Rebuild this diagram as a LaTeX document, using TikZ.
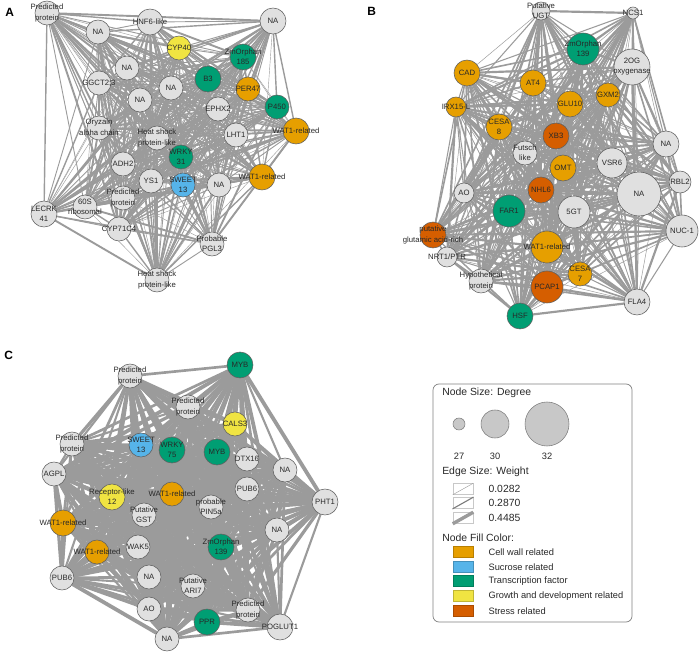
\documentclass[tikz,border=0pt]{standalone}
\usepackage{fontspec}
\setmainfont{Liberation Sans}
\usetikzlibrary{positioning,backgrounds}
\definecolor{netcellwall}{RGB}{230,159,0}
\definecolor{netsucrose}{RGB}{86,180,233}
\definecolor{nettf}{RGB}{0,158,115}
\definecolor{netgrowth}{RGB}{240,228,66}
\definecolor{netstress}{RGB}{213,94,0}
\definecolor{netnode}{RGB}{224,224,224}
\definecolor{netrim}{RGB}{95,95,95}
\definecolor{netedge}{RGB}{155,155,155}
\definecolor{netink}{RGB}{40,40,40}
\definecolor{netlegend}{RGB}{200,200,200}

\def\genesA{aPred1,aNA1,aHNF,aNA2,aCYP,aZmO,aNA3,aB3,aGGCT,aNA4,aPER,aNA5,aEPHX,aP450,aOryz,aHsp1,aLHT,aWAT1,aWRKY,aADH,aYS,aSWEET,aNA6,aWAT2,aPred2,a60S,aLECRK,aCYP71,aPGL,aHsp2}
\def\genesB{bUGT,bNCS,bZmO,b2OG,bCAD,bAT4,bGXM,bIRX,bGLU,bCESA8,bXB3,bFutsch,bNA1,bVSR,bOMT,bRBL,bNHL,bNA2,bAO,bFAR,b5GT,bNUC,bGlu,bWAT,bNRT,bCESA7,bHyp,bPCAP,bFLA,bHSF}
\def\genesC{cPred1,cMYB1,cPred2,cCALS,cPred3,cSWEET,cWRKY,cMYB2,cDTX,cNA1,cAGPL,cPUB1,cRec,cWAT1,cPHT,cPIN,cGST,cWAT2,cNA2,cWAK,cWAT3,cZmO,cPUB2,cNA3,cARI,cAO,cPred4,cPPR,cPOG,cNA4}

\begin{document}
\begin{tikzpicture}[x=0.25mm, y=-0.25mm,
    gene/.style={circle, draw=netrim, line width=0.4pt, fill=netnode, inner sep=0pt, minimum size=#1*0.5mm},
    gene/.default=12,
    lbl/.style={font=\fontsize{5.5}{7.2}\selectfont, text=netink, align=center, inner sep=0pt},
    lab/.style={label={[lbl]center:{#1}}},
    cw/.style={fill=netcellwall},
    su/.style={fill=netsucrose},
    tf/.style={fill=nettf},
    gr/.style={fill=netgrowth},
    st/.style={fill=netstress},
    link/.style={draw=netedge, line cap=round},
    panel/.style={font=\fontsize{8.5}{9}\selectfont\bfseries, anchor=west, inner sep=0pt},
    leghead/.style={font=\fontsize{7.4}{8}\selectfont, text=netink, anchor=west, inner sep=0pt},
    legtext/.style={font=\fontsize{6.6}{7}\selectfont, text=netink, anchor=west, inner sep=0pt},
    legval/.style={font=\fontsize{7.4}{8}\selectfont, text=netink, anchor=west, inner sep=0pt},
    legdot/.style={gene=#1, fill=netlegend, draw=netrim!80},
    swatch/.style={rectangle, minimum width=5mm, minimum height=2.75mm, inner sep=0pt, line width=0.4pt}
  ]
  \useasboundingbox (0,0) rectangle (700,654);

  % panel A
  \node[panel] (labA) at (5,12) {A};
  \node[gene=12, lab={Predicted\\protein}] (aPred1) at (47,13) {};
  \node[gene=12, lab=NA] (aNA1) at (98,32) {};
  \node[gene=13, lab=HNF6-like] (aHNF) at (150,22) {};
  \node[gene=13, lab=NA] (aNA2) at (273,21) {};
  \node[gene=12, gr, lab=CYP40] (aCYP) at (179,48) {};
  \node[gene=13, tf, lab={ZmOrphan\\185}] (aZmO) at (243,57) {};
  \node[gene=12, lab=NA] (aNA3) at (127,68) {};
  \node[gene=13, tf, lab=B3] (aB3) at (208,79) {};
  \node[gene=12, lab={GGCT2;3}] (aGGCT) at (99,83) {};
  \node[gene=12, lab=NA] (aNA4) at (171,88) {};
  \node[gene=12, cw, lab=PER47] (aPER) at (248,89) {};
  \node[gene=12, lab=NA] (aNA5) at (140,100) {};
  \node[gene=12, lab=EPHX2] (aEPHX) at (218,109) {};
  \node[gene=12, tf, lab=P450] (aP450) at (277,107) {};
  \node[gene=12, lab={Oryzain\\alpha chain}] (aOryz) at (99,128) {};
  \node[gene=12, lab={Heat shock\\protein-like}] (aHsp1) at (157,138) {};
  \node[gene=12, lab=LHT1] (aLHT) at (236,135) {};
  \node[gene=13, cw, lab=WAT1-related] (aWAT1) at (296,131) {};
  \node[gene=12, tf, lab={WRKY\\31}] (aWRKY) at (181,157) {};
  \node[gene=12, lab=ADH2] (aADH) at (123,164) {};
  \node[gene=12, lab=YS1] (aYS) at (151,181) {};
  \node[gene=12, su, lab={SWEET\\13}] (aSWEET) at (183,185) {};
  \node[gene=12, lab=NA] (aNA6) at (219,185) {};
  \node[gene=13, cw, lab=WAT1-related] (aWAT2) at (262,177) {};
  \node[gene=12, lab={Predicted\\protein}] (aPred2) at (123,198) {};
  \node[gene=12, lab={60S\\ribosomal}] (a60S) at (85,207) {};
  \node[gene=13, lab={LECRK\\41}] (aLECRK) at (44,214) {};
  \node[gene=12, lab=CYP71C4] (aCYP71) at (119,229) {};
  \node[gene=12, lab={Probable\\PGL3}] (aPGL) at (212,244) {};
  \node[gene=12, lab={Heat shock\\protein-like}] (aHsp2) at (157,280) {};

  % panel B
  \node[panel] (labB) at (367,11) {B};
  \node[gene=9, lab={Putative\\UGT}] (bUGT) at (541,11) {};
  \node[gene=6, lab=NCS1] (bNCS) at (633,13) {};
  \node[gene=16, tf, lab={ZmOrphan\\139}] (bZmO) at (583,49) {};
  \node[gene=18, lab={2OG\\oxygenase}] (b2OG) at (632,67) {};
  \node[gene=13, cw, lab=CAD] (bCAD) at (467,73) {};
  \node[gene=13, cw, lab=AT4] (bAT4) at (533,83) {};
  \node[gene=12, cw, lab=GXM2] (bGXM) at (608,95) {};
  \node[gene=10, cw, lab=IRX15-L] (bIRX) at (456,107) {};
  \node[gene=13, cw, lab=GLU10] (bGLU) at (570,104) {};
  \node[gene=13, cw, lab={CESA\\8}] (bCESA8) at (499,127) {};
  \node[gene=13, st, lab=XB3] (bXB3) at (556,136) {};
  \node[gene=12, lab={Futsch\\like}] (bFutsch) at (525,153) {};
  \node[gene=13, lab=NA] (bNA1) at (666,144) {};
  \node[gene=15, lab=VSR6] (bVSR) at (612,163) {};
  \node[gene=13, cw, lab=OMT] (bOMT) at (563,168) {};
  \node[gene=11, lab=RBL2] (bRBL) at (680,182) {};
  \node[gene=13, st, lab=NHL6] (bNHL) at (541,190) {};
  \node[gene=22, lab=NA] (bNA2) at (639,194) {};
  \node[gene=10, lab=AO] (bAO) at (464,193) {};
  \node[gene=16, tf, lab=FAR1] (bFAR) at (509,211) {};
  \node[gene=16, lab=5GT] (b5GT) at (574,212) {};
  \node[gene=16, lab=NUC-1] (bNUC) at (682,231) {};
  \node[gene=13, st, lab={putative\\glutamic acid-rich}] (bGlu) at (433,235) {};
  \node[gene=16, cw, lab=WAT1-related] (bWAT) at (547,247) {};
  \node[gene=10, lab=NRT1/PTR] (bNRT) at (447,257) {};
  \node[gene=12, cw, lab={CESA\\7}] (bCESA7) at (580,274) {};
  \node[gene=12, lab={Hypothetical\\protein}] (bHyp) at (481,281) {};
  \node[gene=16, st, lab=PCAP1] (bPCAP) at (547,287) {};
  \node[gene=13, lab=FLA4] (bFLA) at (637,302) {};
  \node[gene=13, tf, lab=HSF] (bHSF) at (520,316) {};

  % panel C
  \node[panel] (labC) at (4,355) {C};
  \node[gene=12, lab={Predicted\\protein}] (cPred1) at (130,376) {};
  \node[gene=13, tf, lab=MYB] (cMYB1) at (240,365) {};
  \node[gene=12, lab={Predicted\\protein}] (cPred2) at (188,407) {};
  \node[gene=12, gr, lab=CALS3] (cCALS) at (235,424) {};
  \node[gene=12, lab={Predicted\\protein}] (cPred3) at (72,444) {};
  \node[gene=12, su, lab={SWEET\\13}] (cSWEET) at (141,445) {};
  \node[gene=13, tf, lab={WRKY\\75}] (cWRKY) at (172,450) {};
  \node[gene=13, tf, lab=MYB] (cMYB2) at (217,452) {};
  \node[gene=12, lab=DTX16] (cDTX) at (247,459) {};
  \node[gene=12, lab=NA] (cNA1) at (285,470) {};
  \node[gene=12, lab=AGPL] (cAGPL) at (54,474) {};
  \node[gene=12, lab=PUB6] (cPUB1) at (247,489) {};
  \node[gene=13, gr, lab={Receptor-like\\12}] (cRec) at (112,497) {};
  \node[gene=12, cw, lab=WAT1-related] (cWAT1) at (172,494) {};
  \node[gene=13, lab=PHT1] (cPHT) at (325,502) {};
  \node[gene=12, lab={probable\\PIN5a}] (cPIN) at (211,507) {};
  \node[gene=12, lab={Putative\\GST}] (cGST) at (144,515) {};
  \node[gene=13, cw, lab=WAT1-related] (cWAT2) at (63,523) {};
  \node[gene=12, lab=NA] (cNA2) at (277,530) {};
  \node[gene=12, lab=WAK5] (cWAK) at (138,547) {};
  \node[gene=12, cw, lab=WAT1-related] (cWAT3) at (97,552) {};
  \node[gene=13, tf, lab={ZmOrphan\\139}] (cZmO) at (221,547) {};
  \node[gene=12, lab=PUB6] (cPUB2) at (62,578) {};
  \node[gene=12, lab=NA] (cNA3) at (149,577) {};
  \node[gene=12, lab={Putative\\ARI7}] (cARI) at (193,586) {};
  \node[gene=12, lab=AO] (cAO) at (149,609) {};
  \node[gene=12, lab={Predicted\\protein}] (cPred4) at (248,610) {};
  \node[gene=13, tf, lab=PPR] (cPPR) at (207,622) {};
  \node[gene=13, lab=POGLUT1] (cPOG) at (280,627) {};
  \node[gene=12, lab=NA] (cNA4) at (167,639) {};

  % co-expression links, behind the genes
  \begin{pgfonlayer}{background}
    \foreach \u [count=\i] in \genesA {
      \foreach \v [count=\j] in \genesA {
        \ifnum\j>\i
          \pgfmathsetmacro\ew{0.3+0.35*mod(\i*7+\j*13,4)}
          \draw[link, line width=\ew pt] (\u) -- (\v);
        \fi
      }
    }
    \foreach \u [count=\i] in \genesB {
      \foreach \v [count=\j] in \genesB {
        \ifnum\j>\i
          \pgfmathsetmacro\ew{0.35+0.4*mod(\i*5+\j*11,4)}
          \draw[link, line width=\ew pt] (\u) -- (\v);
        \fi
      }
    }
    \foreach \u [count=\i] in \genesC {
      \foreach \v [count=\j] in \genesC {
        \ifnum\j>\i
          \pgfmathsetmacro\ew{1.5+0.4*mod(\i*7+\j*3,4)}
          \draw[link, line width=\ew pt] (\u) -- (\v);
        \fi
      }
    }
  \end{pgfonlayer}

  % legend
  \draw[rounded corners=1.5mm, draw=netrim!80, line width=0.5pt] (433,384) rectangle (632,622);
  \node[leghead] (sizeHead) at (442,393) {Node Size: Degree};
  \node[legdot=6] (deg27) at (459,424) {};
  \node[legdot=14] (deg30) at (495,424) {};
  \node[legdot=22] (deg32) at (547,424) {};
  \node[legtext, anchor=center] at (459,456) {27};
  \node[legtext, anchor=center] at (495,456) {30};
  \node[legtext, anchor=center] at (547,456) {32};

  \node[leghead] (edgeHead) at (442,472) {Edge Size: Weight};
  \node[swatch, draw=netlegend] (w1) at (463,489) {};
  \node[swatch, draw=netlegend] (w2) at (463,503) {};
  \node[swatch, draw=netlegend] (w3) at (463,518) {};
  \draw[link, line width=0.3pt] (w1.south west) -- (w1.north east);
  \draw[link, draw=netedge!80!black, line width=0.8pt] (w2.south west) -- (w2.north east);
  \draw[link, line width=2.4pt, line cap=butt] (w3.south west) -- (w3.north east);
  \node[legval, right=3.75mm of w1] {0.0282};
  \node[legval, right=3.75mm of w2] {0.2870};
  \node[legval, right=3.75mm of w3] {0.4485};

  \node[leghead] (fillHead) at (442,538) {Node Fill Color:};
  \node[swatch, draw=netcellwall!80!black, fill=netcellwall] (f1) at (463,552) {};
  \node[swatch, draw=netsucrose!80!black, fill=netsucrose] (f2) at (463,567) {};
  \node[swatch, draw=nettf!80!black, fill=nettf] (f3) at (463,581) {};
  \node[swatch, draw=netgrowth!80!black, fill=netgrowth] (f4) at (463,596) {};
  \node[swatch, draw=netstress!80!black, fill=netstress] (f5) at (463,611) {};
  \node[legtext, right=3.75mm of f1] {Cell wall related};
  \node[legtext, right=3.75mm of f2] {Sucrose related};
  \node[legtext, right=3.75mm of f3] {Transcription factor};
  \node[legtext, right=3.75mm of f4] {Growth and development related};
  \node[legtext, right=3.75mm of f5] {Stress related};
\end{tikzpicture}
\end{document}
